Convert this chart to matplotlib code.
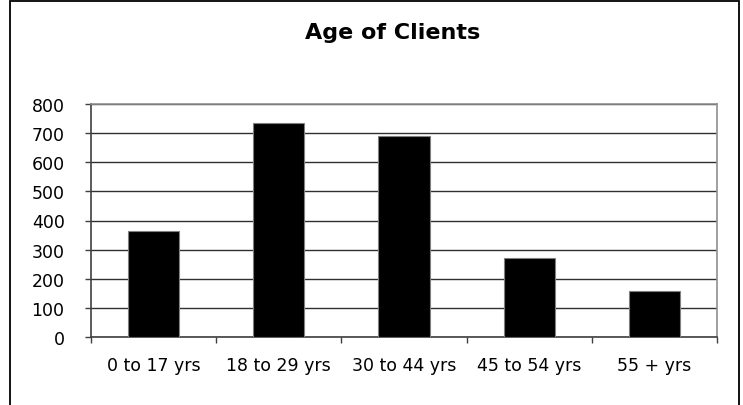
import matplotlib
matplotlib.use("Agg")
import matplotlib.pyplot as plt
from matplotlib.patches import Rectangle

categories = ["0 to 17 yrs", "18 to 29 yrs", "30 to 44 yrs", "45 to 54 yrs", "55 + yrs"]
values = [363, 735, 689, 270, 157]
y_ticks = [0, 100, 200, 300, 400, 500, 600, 700, 800]
title = "Age of Clients"

plt.rcParams['font.family'] = ['DejaVu Sans']

W, H = 743, 406
fig = plt.figure(figsize=(W / 100, H / 100), dpi=100)
fig.patch.set_facecolor("white")

# outer chart border (bottom edge lies outside the picture)
fig.patches.append(Rectangle((9.5 / W, -0.05), (739 - 9.5) / W, 1.05 - 1.5 / H,
                             transform=fig.transFigure, fill=False,
                             edgecolor="black", linewidth=1.3))

ax = fig.add_axes([91 / W, 1 - 338 / H, (717 - 91) / W, (338 - 105) / H])
x = list(range(len(categories)))
ax.bar(x, values, width=0.41, color="black", edgecolor="#808080", linewidth=0.8, zorder=3)

ax.set_xlim(-0.5, len(categories) - 0.5)
ax.set_ylim(0, 800)
ax.set_yticks(y_ticks)
ax.set_yticklabels([str(v) for v in y_ticks], fontsize=12.5)
ax.yaxis.grid(True, color="#303030", linewidth=1.0, zorder=0)
ax.set_axisbelow(True)

ax.set_xticks([i - 0.5 for i in range(len(categories) + 1)])
ax.set_xticklabels([])
ax.set_xticks(x, minor=True)
ax.set_xticklabels(categories, minor=True, fontsize=12.5)
ax.tick_params(axis="x", which="minor", length=0, pad=14)
ax.tick_params(axis="x", which="major", direction="out", length=4, width=1, color="#404040")
ax.tick_params(axis="y", direction="out", length=4, width=1, color="#404040", pad=15)

for s in ["left", "bottom"]:
    ax.spines[s].set_color("#404040")
    ax.spines[s].set_linewidth(1.2)
for s in ["top", "right"]:
    ax.spines[s].set_color("#909090")
    ax.spines[s].set_linewidth(1.2)

fig.text(393 / W, 1 - 33 / H, title, ha="center", va="center",
         fontsize=16, fontweight="bold")

fig.savefig("out.png", dpi=100, facecolor="white")
